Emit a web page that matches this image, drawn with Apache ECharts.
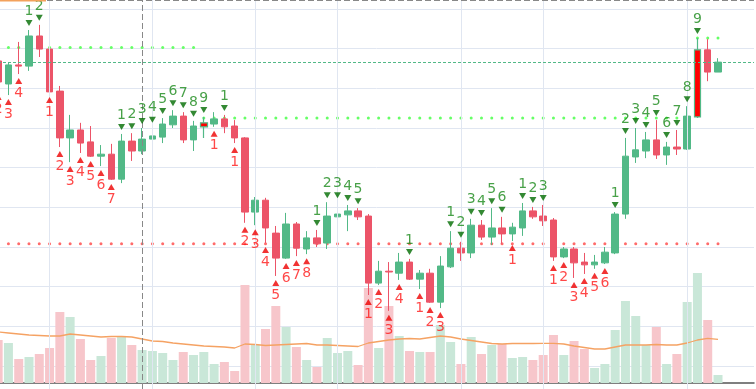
<!DOCTYPE html>
<html><head><meta charset="utf-8">
<script src="https://cdn.jsdelivr.net/npm/echarts@6/dist/echarts.min.js"></script>
<style>html,body{margin:0;padding:0;background:#fff;overflow:hidden}#c{width:756px;height:389px}</style>
</head><body><div id="c"></div>
<script>
// ---- data ----
const categories = ['T01','T02','T03','T04','T05','T06','T07','T08','T09','T10','T11','T12','T13','T14','T15','T16','T17','T18','T19','T20',
'T21','T22','T23','T24','T25','T26','T27','T28','T29','T30','T31','T32','T33','T34','T35','T36','T37','T38','T39','T40',
'T41','T42','T43','T44','T45','T46','T47','T48','T49','T50','T51','T52','T53','T54','T55','T56','T57','T58','T59','T60',
'T61','T62','T63','T64','T65','T66','T67','T68','T69','T70','T71','T72','T73','T74'];

const openP = [27.69,27.11,27.59,27.56,28.32,27.99,26.93,25.75,25.95,25.65,
25.29,25.34,24.71,25.67,25.42,25.72,25.77,26.08,26.30,25.70,
26.03,26.10,26.23,26.05,25.75,23.88,24.18,23.35,22.72,23.58,
22.95,23.23,23.10,23.76,23.81,23.91,23.78,22.09,22.39,22.34,
22.62,22.19,22.34,21.61,22.50,22.97,22.85,23.55,23.25,23.48,
23.33,23.48,23.91,23.78,23.68,22.75,22.95,22.62,22.55,22.60,
22.85,23.83,25.27,25.42,25.70,25.32,25.52,25.47,26.28,27.97,27.41];
const closeP = [27.16,27.59,27.56,28.32,27.99,26.91,25.75,25.95,25.62,25.29,
25.34,24.71,25.67,25.42,25.72,25.80,26.10,26.30,25.70,26.05,
26.13,26.23,26.03,25.75,23.88,24.18,23.48,22.72,23.58,22.97,
23.23,23.08,23.78,23.83,23.91,23.76,22.09,22.39,22.37,22.62,
22.19,22.34,21.61,22.52,22.97,22.85,23.55,23.25,23.48,23.33,
23.50,23.91,23.76,23.66,22.75,22.95,22.60,22.55,22.62,22.87,
23.83,25.29,25.45,25.70,25.32,25.52,25.47,26.30,27.97,27.41,27.66];
const highP = [27.84,27.66,28.17,28.47,28.60,28.02,27.06,26.33,26.13,26.05,
25.57,25.60,25.85,25.87,26.00,26.03,26.25,26.45,26.40,26.18,
26.28,26.40,26.33,26.20,25.77,24.26,24.24,23.53,23.86,23.63,
23.40,23.43,24.13,24.13,24.06,23.98,23.83,22.65,22.62,22.85,
22.70,22.42,22.45,22.77,23.40,23.13,23.71,23.68,23.98,23.76,
23.61,24.11,24.01,24.06,23.73,23.00,23.00,22.85,22.80,23.00,
23.88,25.75,26.00,25.90,26.20,25.65,25.95,26.55,28.27,28.24,27.76];
const lowP = [26.96,26.83,27.36,27.44,27.79,26.88,25.52,25.14,25.37,25.27,
25.04,24.69,24.61,25.17,25.34,25.32,25.62,26.00,25.62,25.42,
25.75,26.03,25.87,25.62,23.61,23.55,23.10,22.27,22.70,22.77,
22.82,23.00,22.95,23.63,23.40,23.68,21.79,22.04,21.39,22.17,
22.17,21.94,21.59,21.46,22.47,22.65,22.72,23.18,23.05,23.08,
23.15,23.28,23.71,23.53,22.65,22.72,22.22,22.32,22.45,22.57,
22.82,23.71,25.12,25.24,25.22,25.07,25.32,25.45,26.25,27.18,27.41];

const volume = [43,40,24,26,29,35,71,66,44,23,
27,45,46,38,33,32,30,23,31,28,
31,19,21,12,98,38,54,77,56,36,
23,16,45,30,32,18,95,35,77,47,
32,31,31,58,41,19,46,29,38,39,
25,26,23,28,48,28,42,34,15,19,
53,82,67,38,56,19,29,81,110,63,8];
const volumeMA = [51,50,49,48,47.5,47,47,49,48,47,
46,46.5,46.5,46,44,42,41.5,40,39,38,
37,36.5,36,35,39,38.5,37.5,38,38.5,39,
39.5,38,38,37.5,37,36.5,40,41.5,43,44,
44.5,44,45.5,47,46,44,42.5,41,39.5,39,
39.5,39.7,39.5,39.7,39.7,39,37,35.5,34,34,
36,38,38,38,38.5,38,38,40,43,44.7,43.7];

// TD setup counts: [index, count]
const tdSell = [[3,1],[4,2],[12,1],[13,2],[14,3],[15,4],[16,5],[17,6],[18,7],[19,8],[20,9],[22,1],
[31,1],[32,2],[33,3],[34,4],[35,5],[40,1],[44,1],[45,2],[46,3],[47,4],[48,5],[49,6],
[51,1],[52,2],[53,3],[60,1],[61,2],[62,3],[63,4],[64,5],[65,6],[66,7],[67,8],[68,9]];
const tdBuy = [[0,2],[1,3],[2,4],[5,1],[6,2],[7,3],[8,4],[9,5],[10,6],[11,7],[21,1],[23,1],
[24,2],[25,3],[26,4],[27,5],[28,6],[29,7],[30,8],[36,1],[37,2],[38,3],[39,4],[41,1],[42,2],[43,3],
[50,1],[54,1],[55,2],[56,3],[57,4],[58,5],[59,6]];

// TDST levels: [fromIndex, toIndex, price]
const resistanceLevels = [[0,19,28.03],[20,67,26.25],[68,70,28.27]];
const supportLevels = [[0,70,23.08]];

const monthStartCats = ['T06','T16','T26','T34','T46','T54','T68'];
const crosshairCat = 'T15';

// ---- styles ----
const GREEN = '#52b987', RED = '#ec5468';
const GREEN_V = '#c9e7d8', RED_V = '#f7c6cb';

const n = openP.length;
const setup9 = new Set(tdSell.filter(d => d[1] === 9).map(d => d[0]));
const candleData = openP.map((o, i) => {
  const item = { value: [o, closeP[i], lowP[i], highP[i]] };
  if (setup9.has(i)) item.itemStyle = { color: '#ff0000', borderColor: GREEN, borderWidth: 1.2 };
  return item;
});
const volData = volume.map((v, i) => ({ value: v, itemStyle: { color: closeP[i] >= openP[i] ? GREEN_V : RED_V } }));
function expandLevels(segs) {
  const arr = categories.map(() => null);
  segs.forEach(([a, b, v]) => { for (let i = a; i <= b; i++) arr[i] = v; });
  return arr;
}

const axisOff = { axisLine: { show: false }, axisTick: { show: false }, axisLabel: { show: false }, splitLine: { show: false } };

const chart = echarts.init(document.getElementById('c'), null, { renderer: 'canvas' });
chart.setOption({
  animation: false,
  textStyle: { fontFamily: 'DejaVu Sans' },
  grid: [
    { left: -7, right: 2, top: 9, bottom: 23, outerBoundsMode: 'none' },
    { left: -7, right: 2, top: 270, bottom: 6, outerBoundsMode: 'none' },
    { left: -7, right: 2, top: 0, bottom: 0, outerBoundsMode: 'none' }
  ],
  xAxis: [0, 1, 2].map(g => Object.assign({}, axisOff, {
    type: 'category', gridIndex: g, data: categories, boundaryGap: true,
    axisLine: { show: g === 1, onZero: false, lineStyle: { color: '#555', width: 1.5 } }
  })),
  yAxis: [
    Object.assign({}, axisOff, { type: 'value', gridIndex: 0, min: 20, max: 29, interval: 1,
      splitLine: { show: true, lineStyle: { color: '#e0e6f1', width: 1 } } }),
    Object.assign({}, axisOff, { type: 'value', gridIndex: 1, min: 0, max: 113 }),
    Object.assign({}, axisOff, { type: 'value', gridIndex: 2, min: 0, max: 1 })
  ],
  graphic: [
    { type: 'rect', left: 0, top: -20, shape: { width: 46, height: 21.5 }, style: { fill: '#f3a25c' }, z: 100 }
  ],
  series: [
    { type: 'line', xAxisIndex: 2, yAxisIndex: 2, data: categories.map(() => null), z: 0, silent: true,
      markLine: { symbol: ['none', 'none'], silent: true, label: { show: false }, animation: false,
        lineStyle: { color: '#e0e6f1', type: 'solid', width: 1 },
        data: monthStartCats.map(c => ({ xAxis: c })) } },
    { type: 'line', xAxisIndex: 0, yAxisIndex: 0, data: expandLevels(resistanceLevels), z: 1, silent: true,
      symbol: 'circle', symbolSize: 3, showSymbol: true, showAllSymbol: true, connectNulls: false,
      lineStyle: { width: 0, opacity: 0 }, itemStyle: { color: '#66ff66' } },
    { type: 'line', xAxisIndex: 0, yAxisIndex: 0, data: expandLevels(supportLevels), z: 1, silent: true,
      symbol: 'circle', symbolSize: 3, showSymbol: true, showAllSymbol: true, connectNulls: false,
      lineStyle: { width: 0, opacity: 0 }, itemStyle: { color: '#ff6b6b' } },
    { type: 'bar', xAxisIndex: 1, yAxisIndex: 1, data: volData, barWidth: 9, z: 1, silent: true },
    { type: 'line', xAxisIndex: 1, yAxisIndex: 1, data: volumeMA, z: 2, silent: true, symbol: 'none',
      lineStyle: { color: '#f5a263', width: 1.3 } },
    { type: 'candlestick', xAxisIndex: 0, yAxisIndex: 0, data: candleData, barWidth: 7, z: 3, silent: true,
      itemStyle: { color: GREEN, color0: RED, borderColor: GREEN, borderColor0: RED, borderWidth: 1 },
      markLine: { symbol: ['none', 'none'], silent: true, label: { show: false }, animation: false,
        lineStyle: { color: GREEN, type: [3, 2], width: 1 },
        data: [{ yAxis: closeP[n - 1] }] } },
    { type: 'scatter', xAxisIndex: 0, yAxisIndex: 0, z: 5, silent: true,
      symbol: 'path://M0 0 L8 0 L4 7 Z', symbolSize: [7, 6], symbolOffset: [0, -7],
      itemStyle: { color: '#006b00' },
      label: { show: true, position: 'top', distance: 2, color: '#1a8a1a', fontSize: 14, formatter: p => String(p.data[2]) },
      data: tdSell.map(([i, c]) => [categories[i], highP[i], c]) },
    { type: 'scatter', xAxisIndex: 0, yAxisIndex: 0, z: 5, silent: true,
      symbol: 'path://M4 0 L8 7 L0 7 Z', symbolSize: [7, 6], symbolOffset: [0, 7],
      itemStyle: { color: '#ee0000' },
      label: { show: true, position: 'bottom', distance: 2, color: '#ff1a1a', fontSize: 14, formatter: p => String(p.data[2]) },
      data: tdBuy.map(([i, c]) => [categories[i], lowP[i], c]) },
    { type: 'line', xAxisIndex: 2, yAxisIndex: 2, data: categories.map(() => null), z: 10, silent: true,
      markLine: { symbol: ['none', 'none'], silent: true, label: { show: false }, animation: false,
        lineStyle: { color: '#888', type: [6, 3], width: 1 },
        data: [{ xAxis: crosshairCat }, { yAxis: 0.9985 }] } }
  ]
});
</script></body></html>
